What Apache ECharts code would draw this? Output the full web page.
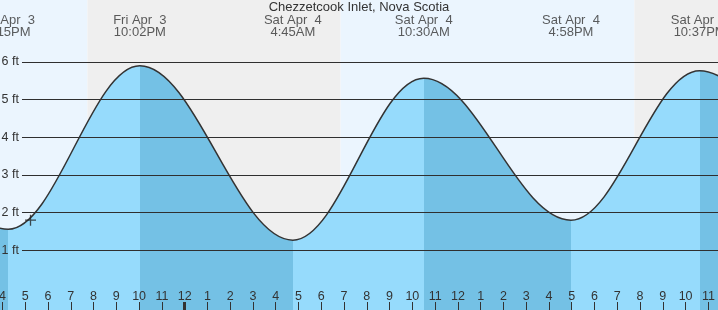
<!DOCTYPE html>
<html>
<head>
<meta charset="utf-8">
<script src="https://cdn.jsdelivr.net/npm/echarts@6/dist/echarts.min.js"></script>
<style>
html,body{margin:0;padding:0;background:#fff;}
#chart{width:718px;height:310px;}
</style>
</head>
<body>
<div id="chart"></div>
<script>
// ---- data (hours since Fri Apr 3 00:00) ----
var TITLE = 'Chezzetcook Inlet, Nova Scotia';
var TIDE_TIMES = [9.8, 16.25, 22.033, 28.75, 34.5, 40.967, 46.617, 53.3];
var TIDE_FT    = [5.7, 1.56, 5.9, 1.27, 5.57, 1.80, 5.77, 1.3];
var EVENT_TIMES = [16.25, 22.033, 28.75, 34.5, 40.967, 46.617];
var EVENT_DAYS  = ['Fri Apr  3', 'Fri Apr  3', 'Sat Apr  4', 'Sat Apr  4', 'Sat Apr  4', 'Sat Apr  4'];
var EVENT_CLOCK = ['4:15PM', '10:02PM', '4:45AM', '10:30AM', '4:58PM', '10:37PM'];
var SUNSETS  = [19.73, 43.75];
var SUNRISES = [30.85];
var HOURS = [16, 17, 18, 19, 20, 21, 22, 23, 24, 25, 26, 27, 28, 29, 30, 31, 32, 33, 34, 35, 36, 37, 38, 39, 40, 41, 42, 43, 44, 45, 46, 47];
var MIDNIGHTS = [24];
var GRID_FT = [1, 2, 3, 4, 5, 6];
var NOW = [17.23, 1.8];

// ---- layout constants ----
var X_MIN = 15, X_MAX = 47.423, GRID_LEFT = -20.27;
var Y_MIN = -0.584, Y_MAX = 7.646;
var GRID_X0 = 16.856;
var LABEL_LEVEL = 6.953;
var TICK_FT = 8 / 37.67;
var DARK = '#74c1e5', LIGHT = '#96dbfc';
var DAY_BG = '#ebf5fe', NIGHT_BG = '#efefef';
var FONT = 'Liberation Sans, Arial, sans-serif';

var tideData = TIDE_TIMES.map(function (t, i) { return [t, TIDE_FT[i]]; });

// falling = dark, rising = light
var pieces = [];
for (var i = 0; i < TIDE_TIMES.length - 1; i++) {
  var rising = TIDE_FT[i + 1] > TIDE_FT[i];
  pieces.push({ gte: TIDE_TIMES[i], lt: TIDE_TIMES[i + 1], color: rising ? LIGHT : DARK });
}

// background day / night
var bgAreas = [];
bgAreas.push([{ xAxis: X_MIN, itemStyle: { color: DAY_BG } }, { xAxis: SUNSETS[0] }]);
bgAreas.push([{ xAxis: SUNSETS[0], itemStyle: { color: NIGHT_BG } }, { xAxis: SUNRISES[0] }]);
bgAreas.push([{ xAxis: SUNRISES[0], itemStyle: { color: DAY_BG } }, { xAxis: SUNSETS[1] }]);
bgAreas.push([{ xAxis: SUNSETS[1], itemStyle: { color: NIGHT_BG } }, { xAxis: X_MAX }]);

function gridLines(withLabel) {
  return GRID_FT.map(function (v) {
    return [
      { coord: [GRID_X0, v], label: { show: withLabel, formatter: v + ' ft', position: 'start', distance: 3, color: '#333', fontSize: 12.5, fontFamily: FONT } },
      { coord: [X_MAX, v] }
    ];
  });
}

function ticks(list) {
  return list.map(function (t) {
    return [{ coord: [t, Y_MIN] }, { coord: [t, Y_MIN + TICK_FT] }];
  });
}

var chart = echarts.init(document.getElementById('chart'), null, { renderer: 'canvas' });
chart.setOption({
  animation: false,
  textStyle: { fontFamily: FONT },
  title: {
    text: TITLE, left: 'center', top: 0, padding: [1, 5],
    textStyle: { fontSize: 13, fontWeight: 'normal', color: '#333', fontFamily: FONT }
  },
  grid: { left: GRID_LEFT, right: 0, top: 0, bottom: 0, containLabel: false, outerBoundsMode: 'none' },
  xAxis: {
    type: 'value', min: X_MIN, max: X_MAX, interval: 1, position: 'bottom', z: 20,
    axisLine: { show: false, onZero: false }, splitLine: { show: false },
    axisTick: { show: false },
    axisLabel: {
      show: true, inside: true, margin: 7, color: '#333', fontSize: 12.5, fontFamily: FONT,
      showMinLabel: true, showMaxLabel: false, hideOverlap: false,
      formatter: function (v) { var k = Math.round(v) % 12; return String(k === 0 ? 12 : k); }
    }
  },
  yAxis: { type: 'value', min: Y_MIN, max: Y_MAX, show: false },
  visualMap: { show: false, type: 'piecewise', dimension: 0, seriesIndex: 2, pieces: pieces },
  series: [
    { type: 'line', data: [], z: 1, silent: true,
      markArea: { silent: true, data: bgAreas } },
    { type: 'line', data: [], z: 2, silent: true,
      markLine: { silent: true, symbol: 'none', lineStyle: { color: '#333', width: 1, type: 'solid' }, data: gridLines(true) } },
    { type: 'line', data: tideData, z: 3, smooth: 0.36, smoothMonotone: 'x', showSymbol: false, silent: true,
      lineStyle: { color: '#333', width: 1.5 },
      areaStyle: { opacity: 1, origin: 'start' } },
    { type: 'line', data: [], z: 4, silent: true,
      markLine: { silent: true, symbol: 'none', lineStyle: { color: 'rgba(0,0,0,0.08)', width: 1, type: 'solid' }, data: gridLines(false) } },
    { type: 'line', data: [], z: 21, silent: true,
      markLine: { silent: true, symbol: 'none', label: { show: false }, lineStyle: { color: '#333', width: 1, type: 'solid' }, data: ticks(HOURS) } },
    { type: 'line', data: [], z: 22, silent: true,
      markLine: { silent: true, symbol: 'none', label: { show: false }, lineStyle: { color: '#333', width: 3, type: 'solid' }, data: ticks(MIDNIGHTS) } },
    { type: 'scatter', data: [NOW], z: 5, silent: true,
      symbol: 'path://M0,4.4h10v1.2h-10z M4.4,0h1.2v10h-1.2z', symbolSize: 11,
      itemStyle: { color: '#222' } },
    { type: 'scatter', z: 6, silent: true, symbolSize: 0,
      data: EVENT_TIMES.map(function (t) { return [t, LABEL_LEVEL]; }),
      label: {
        show: true, position: 'inside', color: '#333', fontSize: 13, lineHeight: 12, fontFamily: FONT, align: 'center',
        formatter: function (p) { return EVENT_DAYS[p.dataIndex] + '\n' + EVENT_CLOCK[p.dataIndex]; }
      } }
  ]
});
</script>
</body>
</html>
